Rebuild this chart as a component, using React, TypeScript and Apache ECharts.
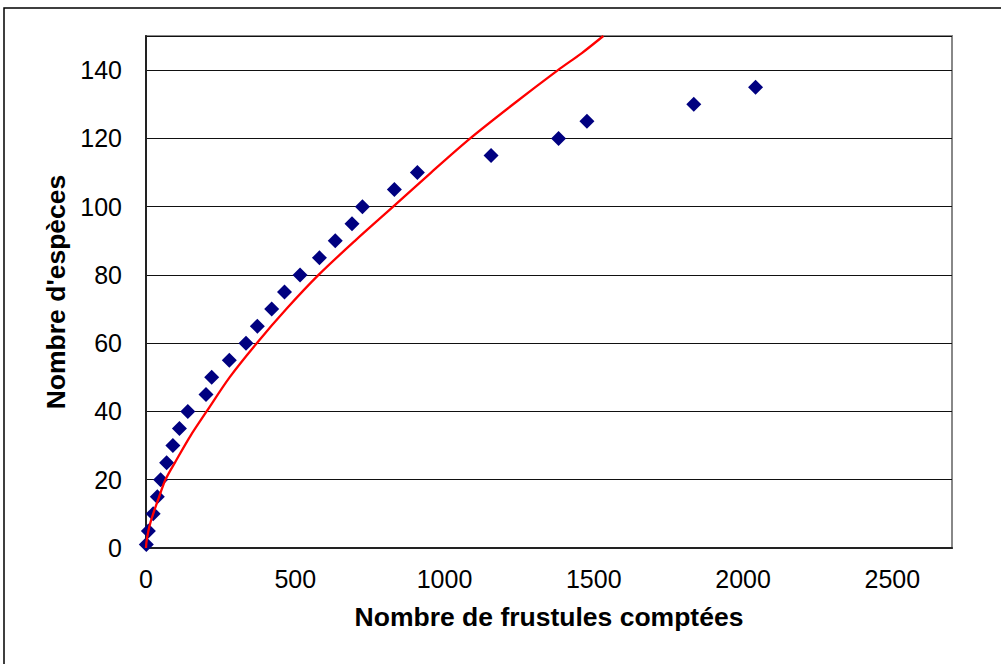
import React, { useEffect, useRef } from "react";
import * as echarts from "echarts";

const countX = [1, 8, 24, 38, 49, 69, 90, 112, 140, 201, 220, 279, 335, 373, 421, 464, 516, 581, 634, 690, 725, 832, 909, 1156, 1382, 1477, 1835, 2042];
const speciesY = [1, 5, 10, 15, 20, 25, 30, 35, 40, 45, 50, 55, 60, 65, 70, 75, 80, 85, 90, 95, 100, 105, 110, 115, 120, 125, 130, 135];

// trend curve, points
const trendX = [0, 1, 3, 8, 15, 24, 40, 65, 100, 150, 203, 280, 371, 470, 578, 700, 828, 955, 1086, 1230, 1380, 1460, 1532];
const trendY = [0, 1.3, 2.6, 5, 7.5, 10, 14, 20, 25.5, 33, 40, 50, 60, 70, 80, 90, 100, 110, 120, 130, 140, 145, 150];

const xTitle = "Nombre de frustules comptées";
const yTitle = "Nombre d'espèces";

export default function App() {
  const ref = useRef<HTMLDivElement>(null);
  useEffect(() => {
    if (!ref.current) return;
    const chart = echarts.init(ref.current, null, { renderer: "svg" });
    const font = "'Liberation Sans', Arial, Helvetica, sans-serif";
    const narrow = "'Liberation Sans Narrow', 'Liberation Sans', Arial, sans-serif";
    chart.setOption({
      animation: false,
      backgroundColor: "#ffffff",
      textStyle: { fontFamily: font },
      graphic: [
        {
          type: "rect",
          shape: { x: 4, y: 8, width: 1100, height: 800 },
          style: { fill: "none", stroke: "#000", lineWidth: 1.5 },
          silent: true,
          z: -10,
        },
      ],
      grid: {
        left: 146,
        top: 36,
        right: 49,
        bottom: 116,
        show: true,
        borderColor: "#888",
        borderWidth: 2,
        backgroundColor: "#fff",
      },
      xAxis: {
        type: "value",
        min: 0,
        max: 2700,
        interval: 500,
        axisLine: { show: true, onZero: false, lineStyle: { color: "#222", width: 2 } },
        axisTick: { show: false },
        splitLine: { show: false },
        axisLabel: {
          showMaxLabel: false,
          color: "#000",
          fontSize: 25,
          margin: 18,
          fontFamily: narrow,
          formatter: (v: number) => String(v),
        },
        name: xTitle,
        nameLocation: "middle",
        nameGap: 55,
        nameTextStyle: { color: "#000", fontSize: 26.5, fontWeight: "bold", fontFamily: font },
      },
      yAxis: {
        type: "value",
        min: 0,
        max: 150,
        interval: 20,
        axisLine: { show: true, lineStyle: { color: "#222", width: 2 } },
        axisTick: { show: false },
        splitLine: { show: true, lineStyle: { color: "#111", width: 1.2 } },
        axisLabel: {
          showMaxLabel: false,
          color: "#000",
          fontSize: 25,
          margin: 24,
          fontFamily: narrow,
          formatter: (v: number) => String(v),
        },
        name: yTitle,
        nameLocation: "middle",
        nameGap: 76,
        nameTextStyle: { color: "#000", fontSize: 26.5, fontWeight: "bold", fontFamily: font },
      },
      series: [
        {
          type: "line",
          data: trendX.map((x, i) => [x, trendY[i]]),
          smooth: 0.3,
          showSymbol: false,
          symbol: "none",
          lineStyle: { color: "#ff0000", width: 2.3 },
          clip: true,
          z: 3,
        },
        {
          type: "scatter",
          data: countX.map((x, i) => [x, speciesY[i]]),
          symbol: "diamond",
          symbolSize: 15,
          itemStyle: { color: "#000080", opacity: 1 },
          z: 2,
        },
      ],
    });
    return () => chart.dispose();
  }, []);
  return (
    <div
      ref={ref}
      style={{ position: "fixed", left: 0, top: 0, width: 1001, height: 664, background: "#fff" }}
    />
  );
}
